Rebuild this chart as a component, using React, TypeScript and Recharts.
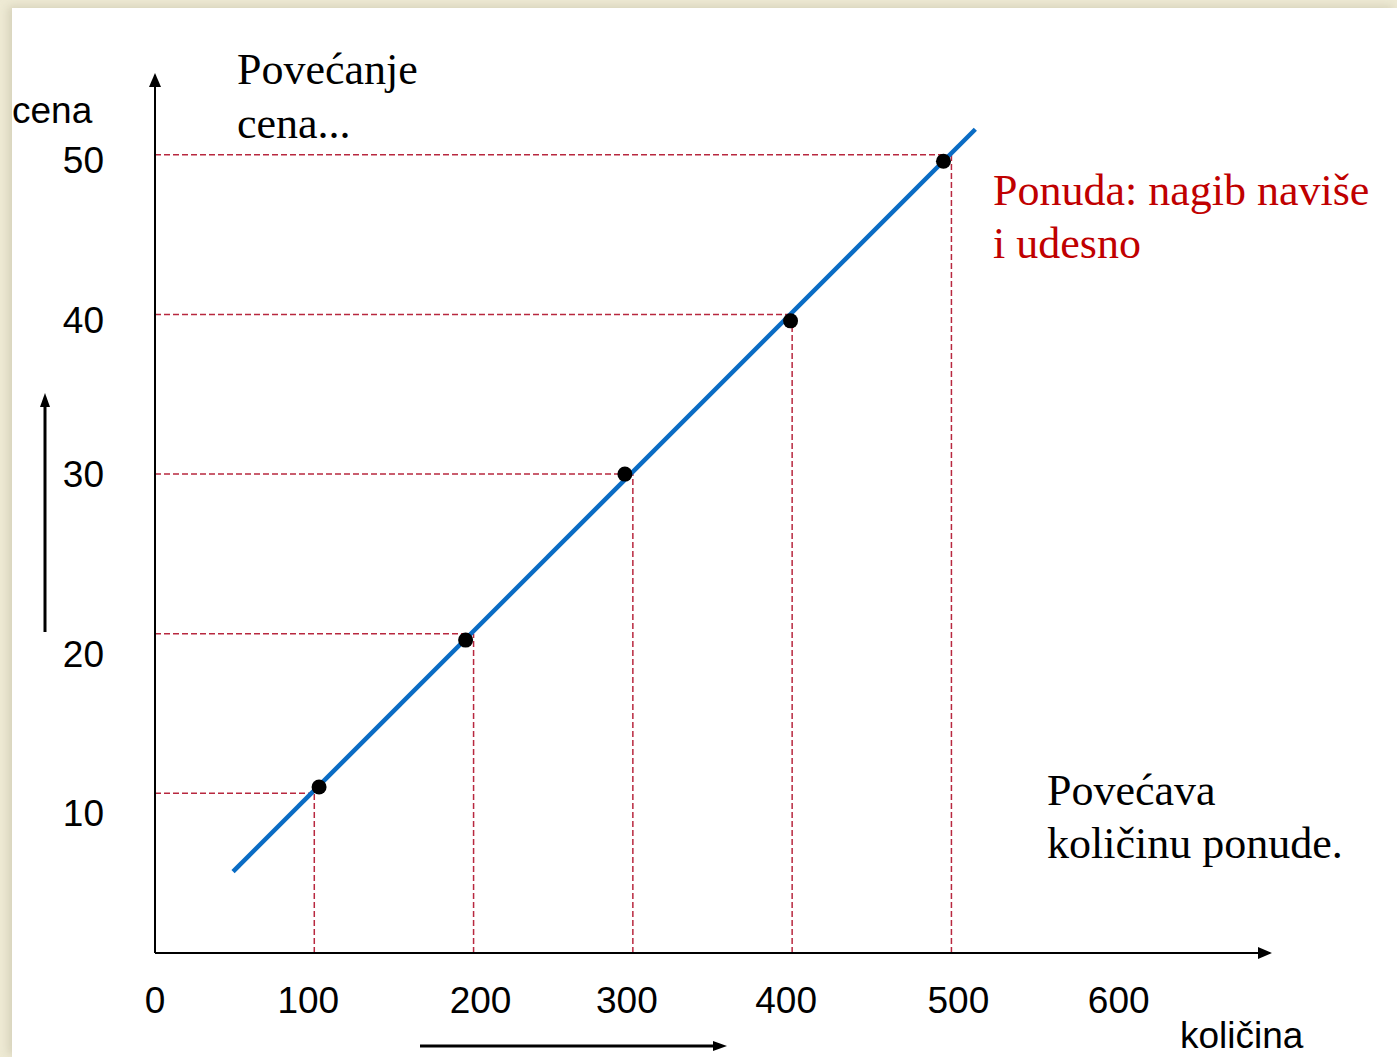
import {
  ComposedChart,
  Line,
  Scatter,
  XAxis,
  YAxis,
  ReferenceLine,
  ReferenceDot,
} from "recharts";

// axis ticks
const quantityTicks = [0, 100, 200, 300, 400, 500, 600];
const priceTicks = [10, 20, 30, 40, 50];

// dashed guide lines (quantity, price)
const guideQuantities = [100, 200, 300, 400, 500];
const guidePrices = [10, 20, 30, 40, 50];

// black dots on the supply line
const pointQuantities = [103, 195, 295, 399, 495];
const pointPrices = [10.4, 19.6, 30.0, 39.6, 49.6];

// supply line end points
const supplyQuantities = [49, 515];
const supplyPrices = [5.1, 51.6];

const W = 1397;
const H = 1057;
const guideColor = "#B8283F";
const sans = "'Liberation Sans', Arial, sans-serif";
const serif = "'Liberation Serif', 'Times New Roman', serif";

// the slide's hand-placed tick labels sit a little off their ticks
const xLabelNudge: Record<number, number> = { 100: -6, 200: 7, 300: -6, 400: -6, 500: 7, 600: 8 };
const yLabelNudge: Record<number, number> = { 10: 20, 20: 20, 30: 0, 40: 5, 50: 5 };

const supplyData = supplyQuantities.map((q, i) => ({ q, p: supplyPrices[i] }));
const pointData = pointQuantities.map((q, i) => ({ q, p: pointPrices[i] }));

function XTick(props: any) {
  const { x, y, payload } = props;
  const dx = xLabelNudge[payload.value] ?? 0;
  return (
    <text
      x={x + dx}
      y={y}
      dy="0.71em"
      textAnchor="middle"
      fontFamily={sans}
      fontSize={37}
      fill="#000"
    >
      {payload.value}
    </text>
  );
}

function YTick(props: any) {
  const { x, y, payload } = props;
  const dy = yLabelNudge[payload.value] ?? 0;
  return (
    <text
      x={x}
      y={y + dy}
      dy="0.355em"
      textAnchor="end"
      fontFamily={sans}
      fontSize={37}
      fill="#000"
    >
      {payload.value}
    </text>
  );
}

export default function App() {
  return (
    <div
      style={{
        position: "absolute",
        left: 0,
        top: 0,
        width: W,
        height: H,
        background: "#EEEAD4",
        overflow: "hidden",
      }}
    >
      <div
        style={{
          position: "absolute",
          left: 12,
          top: 8,
          right: 0,
          bottom: 0,
          background: "#fff",
          boxShadow: "-4px -2px 8px rgba(200,195,170,0.6)",
        }}
      />
      <div style={{ position: "absolute", left: 0, top: 0 }}>
        <ComposedChart
          width={W}
          height={H}
          data={supplyData}
          margin={{ top: 75, right: 127, bottom: 0, left: 0 }}
        >
          <XAxis
            type="number"
            dataKey="q"
            domain={[0, 700]}
            ticks={quantityTicks}
            allowDataOverflow
            height={104}
            tickSize={0}
            tickMargin={34}
            tick={<XTick />}
            axisLine={{ stroke: "#000", strokeWidth: 2 }}
            tickLine={false}
          />
          <YAxis
            type="number"
            dataKey="p"
            domain={[0, 55]}
            ticks={priceTicks}
            allowDataOverflow
            width={155}
            tickSize={0}
            tickMargin={51}
            tick={<YTick />}
            axisLine={{ stroke: "#000", strokeWidth: 2 }}
            tickLine={false}
          />
          {guidePrices.map((p, i) => (
            <ReferenceLine
              key={`h${p}`}
              segment={[
                { x: 0, y: p },
                { x: guideQuantities[i], y: p },
              ]}
              stroke={guideColor}
              strokeWidth={1.5}
              strokeDasharray="6 3"
              ifOverflow="visible"
            />
          ))}
          {guideQuantities.map((q, i) => (
            <ReferenceLine
              key={`v${q}`}
              segment={[
                { x: q, y: 0 },
                { x: q, y: guidePrices[i] },
              ]}
              stroke={guideColor}
              strokeWidth={1.5}
              strokeDasharray="6 3"
              ifOverflow="visible"
            />
          ))}
          <Line
            dataKey="p"
            stroke="#0A6CC4"
            strokeWidth={4.5}
            dot={false}
            activeDot={false}
            isAnimationActive={false}
          />
          <Scatter
            data={pointData}
            dataKey="p"
            fill="#000"
            isAnimationActive={false}
            shape={(props: any) => (
              <circle cx={props.cx} cy={props.cy} r={7.5} fill="#000" />
            )}
          />
          <ReferenceDot
            x={0}
            y={55}
            ifOverflow="visible"
            shape={(props: any) => (
              <path
                d={`M${props.cx} ${props.cy - 2} l-6 14 l12 0 z`}
                fill="#000"
              />
            )}
          />
          <ReferenceDot
            x={700}
            y={0}
            ifOverflow="visible"
            shape={(props: any) => (
              <path
                d={`M${props.cx + 2} ${props.cy} l-14 -6 l0 12 z`}
                fill="#000"
              />
            )}
          />
        </ComposedChart>
      </div>
      <svg
        width={W}
        height={H}
        style={{ position: "absolute", left: 0, top: 0, pointerEvents: "none" }}
      >
        <text x={12} y={123} fontFamily={sans} fontSize={37} fill="#000">
          cena
        </text>
        <text x={1180} y={1048} fontFamily={sans} fontSize={37} fill="#000">
          količina
        </text>
        <text x={237} y={84} fontFamily={serif} fontSize={44} fill="#000">
          Povećanje
        </text>
        <text x={237} y={138} fontFamily={serif} fontSize={44} fill="#000">
          cena...
        </text>
        <text x={993} y={205} fontFamily={serif} fontSize={44} fill="#C00000">
          Ponuda: nagib naviše
        </text>
        <text x={993} y={258} fontFamily={serif} fontSize={44} fill="#C00000">
          i udesno
        </text>
        <text x={1047} y={805} fontFamily={serif} fontSize={44} fill="#000">
          Povećava
        </text>
        <text x={1047} y={858} fontFamily={serif} fontSize={44} fill="#000">
          količinu ponude.
        </text>
        <line x1={45} y1={632} x2={45} y2={405} stroke="#000" strokeWidth={3} />
        <path d="M45 393 l-5 14 l10 0 z" fill="#000" />
        <line x1={420} y1={1046} x2={715} y2={1046} stroke="#000" strokeWidth={3} />
        <path d="M727 1046 l-14 -5 l0 10 z" fill="#000" />
      </svg>
    </div>
  );
}
